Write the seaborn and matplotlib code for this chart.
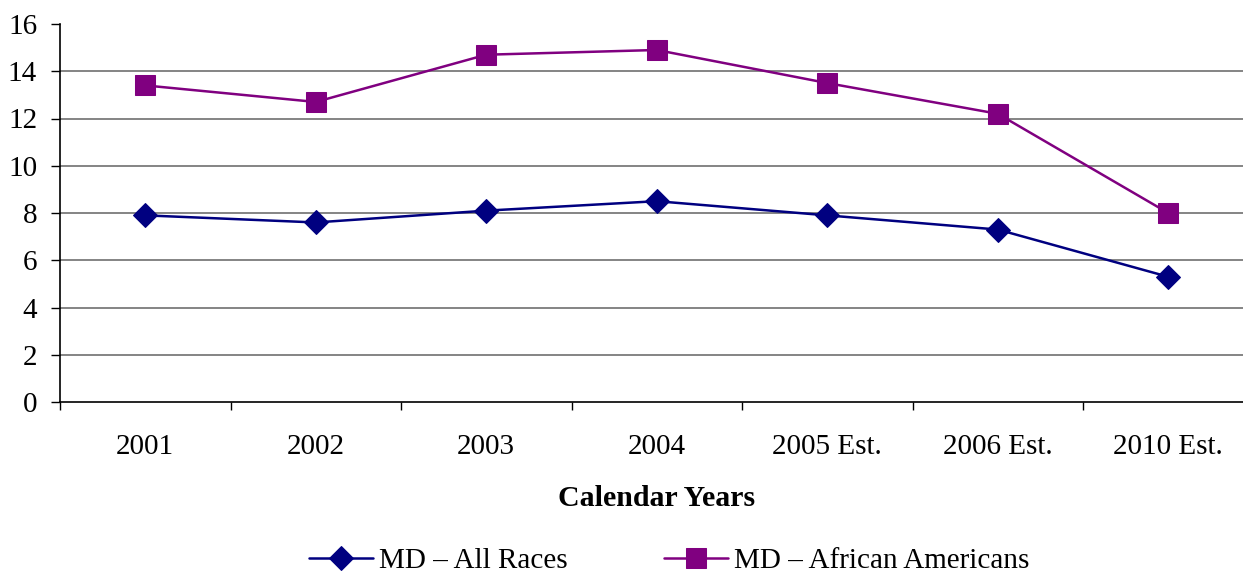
import numpy as np
import pandas as pd
import matplotlib
matplotlib.use('Agg')
import matplotlib.pyplot as plt
import seaborn as sns

years = ['2001', '2002', '2003', '2004', '2005 Est.', '2006 Est.', '2010 Est.']
all_races = [7.9, 7.6, 8.1, 8.5, 7.9, 7.3, 5.3]
african_americans = [13.4, 12.7, 14.7, 14.9, 13.5, 12.2, 8.0]

sns.set_style('white', {'xtick.bottom': True, 'ytick.left': True,
                        'text.color': 'black', 'xtick.color': 'black',
                        'ytick.color': 'black', 'axes.labelcolor': 'black'})
plt.rcParams['font.family'] = ['Liberation Serif', 'DejaVu Serif']

df = pd.DataFrame({'pos': np.arange(len(years)), 'year': years,
                   'all': all_races, 'aa': african_americans})

fig = plt.figure(figsize=(12.43, 5.75), dpi=100)
ax = fig.add_axes([60 / 1243, 1 - 402 / 575, 1 - 60 / 1243, (402 - 24) / 575])

sns.lineplot(data=df, x='pos', y='all', ax=ax, color='#000080', marker='D',
             markersize=12, markeredgecolor='#000080', linewidth=1.8,
             label='MD \u2013 All Races')
sns.lineplot(data=df, x='pos', y='aa', ax=ax, color='#800080', marker='s',
             markersize=14, markeredgecolor='#800080', linewidth=1.8,
             label='MD \u2013 African Americans')

ax.set_yticks(range(0, 17, 2))
for v in range(2, 16, 2):
    ax.axhline(v, color='#707070', linewidth=1.2, zorder=0)

ax.set_xticks(df['pos'])
ax.set_xticklabels(years)
ax.set_xticks(np.arange(-0.5, 7, 1), minor=True)
# set limits after ticks, otherwise set_xticks widens the view
ax.set_ylim(0, 16)
xspan = 1183 / 170.5
ax.set_xlim(-0.5, -0.5 + xspan)
ax.tick_params(axis='x', which='major', length=0, pad=23, labelsize=21)
ax.tick_params(axis='x', which='minor', length=6, width=1, direction='out', color='black')
ax.tick_params(axis='y', length=6.5, width=1, direction='out', color='black', labelsize=21, pad=10)

for s in ['top', 'right']:
    ax.spines[s].set_visible(False)
for s in ['left', 'bottom']:
    ax.spines[s].set_color('black')
    ax.spines[s].set_linewidth(1.2)

# centre the label under the middle category, as in the original
ax.set_xlabel('Calendar Years', fontsize=21.5, fontweight='bold')
ax.xaxis.set_label_coords(3.5 / xspan, -83 / 378)
ax.set_ylabel('')

ax.legend(loc='center', bbox_to_anchor=(669 / 1243, 1 - 561 / 575), bbox_transform=fig.transFigure,
          ncol=2, frameon=False, fontsize=21, handlelength=2.2, columnspacing=3.3,
          handletextpad=0.2)

fig.savefig('out.png', dpi=100)
